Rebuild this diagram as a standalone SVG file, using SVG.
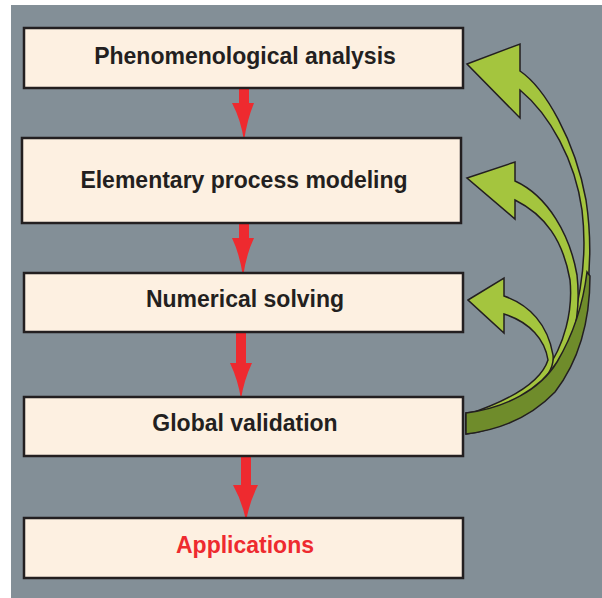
<svg xmlns="http://www.w3.org/2000/svg" width="602" height="598" viewBox="0 0 602 598">
<style>
.box{fill:#FDF0E1;stroke:#231F20;stroke-width:2.5}
.lbl{font-family:"Liberation Sans",Arial,sans-serif;font-weight:bold;font-size:23px;fill:#231F20;text-anchor:middle}
.red{fill:#EE2A2F;stroke:none}
.grn{fill:#A4C53E;stroke:#231F20;stroke-width:1.5;stroke-linejoin:miter}
.dk{fill:#6F8C2B;stroke:#231F20;stroke-width:1.5}
</style>
<rect x="0" y="0" width="602" height="598" fill="#FFFFFF"/>
<rect x="11" y="5" width="591" height="593" fill="#838F97"/>
<g id="connectors">
<path class="red" d="M239,88 L249,88 L249,103 L254,103 Q247,120 244,141 Q241,120 232,103 L239,103 Z"/>
<path class="red" d="M239,222 L249,222 L249,238 L254,238 Q246,255 243,277 Q240,255 232,238 L239,238 Z"/>
<path class="red" d="M236,333 L246,333 L246,363 L252,363 Q244,380 241,399 Q238,380 230,363 L236,363 Z"/>
<path class="red" d="M241,456 L251,456 L251,485 L258,485 Q249,503 246,522 Q243,503 233,485 L241,485 Z"/>
<path class="grn" d="M467,64 L520,44 L520,71 C545,88 575,140 586,200 C595,260 588,330 560,375 C535,410 500,430 466,434 L466,413 C500,410 535,390 555,360 C580,320 588,260 582,210 C575,160 550,115 520,90 L520,118 Z"/>
<path class="grn" d="M467,178 L515,162 L515,181 C548,196 570,235 577,275 C582,320 570,360 548,385 C525,410 495,425 466,430 L466,415 C498,410 528,392 545,372 C565,345 573,310 570,280 C563,240 545,215 515,200 L515,219 Z"/>
<path class="grn" d="M468,300 L504,278 L504,296 C530,305 548,325 553,355 C556,380 520,405 466,425 L466,415 C505,402 540,385 548,360 C545,340 530,322 504,314 L504,333 Z"/>
<path class="dk" d="M466,413 C505,408 540,390 557,362 C573,335 583,305 587,272 L590,276 C590,322 578,362 555,392 C530,418 500,430 466,434 Z"/>
</g>
<g id="n1"><rect class="box" x="24" y="28" width="439" height="60"/><text class="lbl" x="245" y="64">Phenomenological analysis</text></g>
<g id="n2"><rect class="box" x="22" y="138" width="439" height="85"/><text class="lbl" x="244" y="188">Elementary process modeling</text></g>
<g id="n3"><rect class="box" x="24" y="273" width="439" height="59"/><text class="lbl" x="245" y="307">Numerical solving</text></g>
<g id="n4"><rect class="box" x="24" y="397" width="439" height="59"/><text class="lbl" x="245" y="431">Global validation</text></g>
<g id="n5"><rect class="box" x="24" y="518" width="439" height="60"/><text class="lbl" x="245" y="553" style="fill:#EE2A2F">Applications</text></g>
</svg>
